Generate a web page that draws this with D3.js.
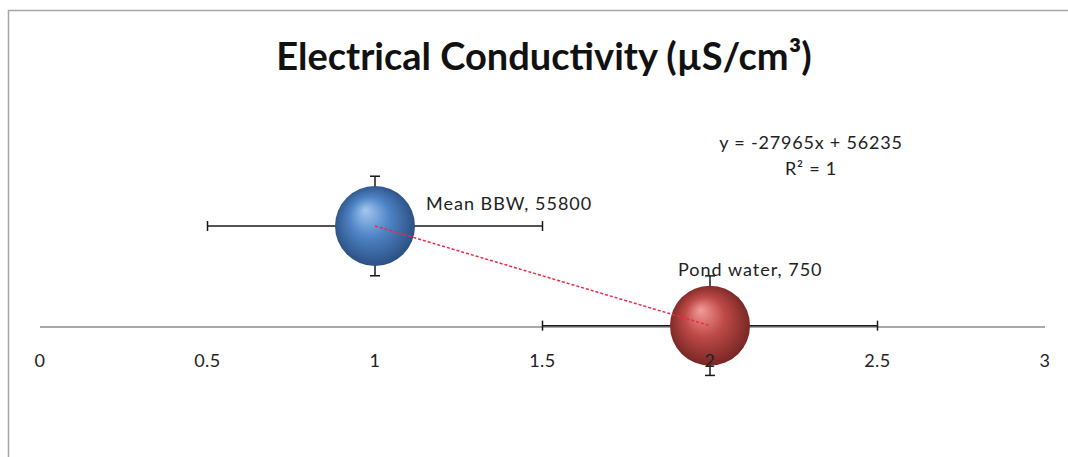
<!DOCTYPE html>
<html>
<head>
<meta charset="utf-8">
<script src="https://cdn.jsdelivr.net/npm/d3@7"></script>
<style>
  body { margin: 0; background: #fff; }
  text { font-family: Lato, "Open Sans", sans-serif; }
</style>
</head>
<body>
<svg width="1068" height="457"></svg>
<script>
// data
const names = ['Mean BBW', 'Pond water'];
const xVals = [1, 2];
const yVals = [55800, 750];
const xErr = [0.5, 0.5];
const yErr = [27500, 27500];
const xTicks = [0, 0.5, 1, 1.5, 2, 2.5, 3];
const slope = -27965;
const intercept = 56235;

const svg = d3.select('svg');
const W = +svg.attr('width');
const H = +svg.attr('height');

// chart border (cropped on right and bottom)
svg.append('rect')
    .attr('x', 8.5).attr('y', 10.5)
    .attr('width', W + 20).attr('height', H + 20)
    .attr('fill', 'white')
    .attr('stroke', '#a6a6a6')
    .attr('stroke-width', 1.5);

const x = d3.scaleLinear().domain([0, 3]).range([40, 1045]);
// y axis is hidden, x axis crosses at 0
const y = d3.scaleLinear().domain([0, 55800]).range([327, 226]);

// gradients for the 3d bubbles
const defs = svg.append('defs');
const colours = [
    ['#a4c8f0', '#4f84c6', '#26497a'],
    ['#f29c9a', '#be4a47', '#6e2220']
];
colours.forEach((c, i) => {
    const gr = defs.append('radialGradient')
        .attr('id', 'g' + i)
        .attr('cx', '0.5').attr('cy', '0.5').attr('r', '0.55')
        .attr('fx', '0.38').attr('fy', '0.3');
    gr.append('stop').attr('offset', '0%').attr('stop-color', c[0]);
    gr.append('stop').attr('offset', '45%').attr('stop-color', c[1]);
    gr.append('stop').attr('offset', '100%').attr('stop-color', c[2]);
});

// title
svg.append('text')
    .attr('x', 544).attr('y', 70)
    .attr('text-anchor', 'middle')
    .attr('font-size', 38)
    .attr('font-weight', 'bold')
    .attr('fill', '#111')
    .text('Electrical Conductivity (µS/cm³)');

// x axis line
svg.append('line')
    .attr('x1', x(0)).attr('x2', x(3))
    .attr('y1', y(0)).attr('y2', y(0))
    .attr('stroke', '#8c8c8c')
    .attr('stroke-width', 1.5);

const pts = xVals.map((v, i) => ({ x: v, y: yVals[i], ex: xErr[i], ey: yErr[i], name: names[i], i }));

// error bars (behind the bubbles)
const cap = 5;
pts.forEach(d => {
    const g = svg.append('g').attr('stroke', '#1a1a1a').attr('stroke-width', 1.5);
    g.append('line')
        .attr('x1', x(d.x - d.ex)).attr('x2', x(d.x + d.ex))
        .attr('y1', y(d.y)).attr('y2', y(d.y));
    [d.x - d.ex, d.x + d.ex].forEach(v => {
        g.append('line')
            .attr('x1', x(v)).attr('x2', x(v))
            .attr('y1', y(d.y) - cap).attr('y2', y(d.y) + cap);
    });
    g.append('line')
        .attr('x1', x(d.x)).attr('x2', x(d.x))
        .attr('y1', y(d.y - d.ey)).attr('y2', y(d.y + d.ey));
    [d.y - d.ey, d.y + d.ey].forEach(v => {
        g.append('line')
            .attr('x1', x(d.x) - cap).attr('x2', x(d.x) + cap)
            .attr('y1', y(v)).attr('y2', y(v));
    });
});

// bubbles
svg.selectAll('circle.pt')
    .data(pts)
    .join('circle')
    .attr('class', 'pt')
    .attr('cx', d => x(d.x))
    .attr('cy', d => y(d.y))
    .attr('r', 40)
    .attr('fill', d => `url(#g${d.i})`);

// linear trendline through the two points
svg.append('line')
    .attr('x1', x(xVals[0])).attr('y1', y(yVals[0]))
    .attr('x2', x(xVals[1])).attr('y2', y(yVals[1]))
    .attr('stroke', '#ec2a45')
    .attr('stroke-width', 1.5)
    .attr('stroke-dasharray', '3,2');

// tick labels
svg.selectAll('text.tick')
    .data(xTicks)
    .join('text')
    .attr('class', 'tick')
    .attr('x', d => x(d))
    .attr('y', 367)
    .attr('text-anchor', 'middle')
    .attr('font-size', 18)
    .attr('letter-spacing', 0.5)
    .attr('fill', '#222')
    .text(d => d);

// data labels
const labelOff = [[51, -16], [-32, -50]];
svg.selectAll('text.lbl')
    .data(pts)
    .join('text')
    .attr('class', 'lbl')
    .attr('x', d => x(d.x) + labelOff[d.i][0])
    .attr('y', d => y(d.y) + labelOff[d.i][1])
    .attr('font-size', 18)
    .attr('letter-spacing', 1)
    .attr('fill', '#222')
    .text(d => `${d.name}, ${d.y}`);

// trendline equation
const eq = svg.append('text')
    .attr('text-anchor', 'middle')
    .attr('font-size', 18)
    .attr('letter-spacing', 0.8)
    .attr('fill', '#222');
eq.append('tspan').attr('x', 811).attr('y', 149)
    .text(`y = ${slope}x + ${intercept}`);
eq.append('tspan').attr('x', 811).attr('y', 175)
    .text('R² = 1');
</script>
</body>
</html>
